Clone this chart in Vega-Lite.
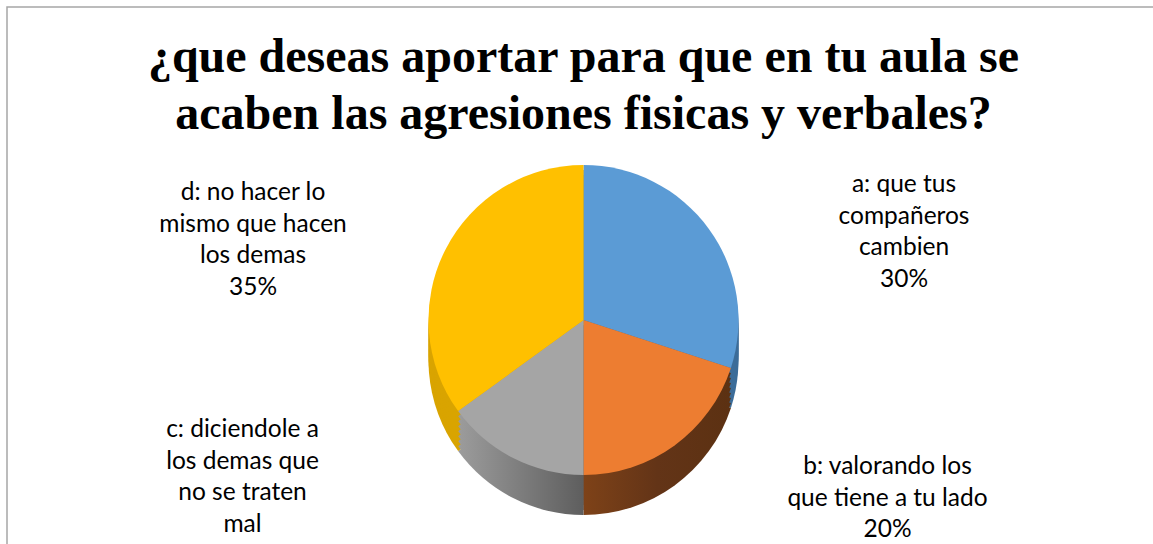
{
  "$schema": "https://vega.github.io/schema/vega-lite/v6.json",
  "width": 1153,
  "height": 626,
  "autosize": {"type": "none"},
  "padding": {"left": 7, "top": 7, "right": 0, "bottom": 0},
  "background": "white",
  "config": {"view": {"stroke": "#A6A6A6", "strokeWidth": 1.5}},
  "title": {
    "text": ["¿que deseas aportar para que en tu aula se", "acaben las agresiones fisicas y verbales?"],
    "font": "Liberation Serif",
    "fontSize": 48,
    "fontWeight": "bold",
    "color": "#000000",
    "lineHeight": 57,
    "anchor": "middle",
    "frame": "group",
    "offset": -132
  },
  "data": {
    "values": [
      {"category": "a", "value": 30, "label": ["a: que tus", "compañeros", "cambien", "30%"]},
      {"category": "b", "value": 20, "label": ["b: valorando los", "que tiene a tu lado", "20%"]},
      {"category": "c", "value": 15, "label": ["c: diciendole a", "los demas que", "no se traten", "mal"]},
      {"category": "d", "value": 35, "label": ["d: no hacer lo", "mismo que hacen", "los demas", "35%"]}
    ]
  },
  "layer": [
    {"mark": {"type": "arc", "radius": 155, "yOffset": 40},
     "encoding": {"theta": {"field": "value", "type": "quantitative", "stack": true},
       "order": {"field": "category", "type": "ordinal", "sort": "ascending"},
       "fill": {"condition": [
         {"test": "datum.category === 'b'", "value": {"gradient": "linear", "x1": 0, "y1": 0, "x2": 1, "y2": 0, "stops": [{"offset": 0, "color": "#7E4218"}, {"offset": 0.5, "color": "#633417"}, {"offset": 1, "color": "#5C3112"}]}},
         {"test": "datum.category === 'c'", "value": {"gradient": "linear", "x1": 0, "y1": 0, "x2": 1, "y2": 0, "stops": [{"offset": 0, "color": "#9C9C9C"}, {"offset": 1, "color": "#5E5E5E"}]}},
         {"test": "datum.category === 'd'", "value": "#D9A400"}], "value": "#3D6D99"}}},
    {"mark": {"type": "arc", "radius": 155, "yOffset": 35},
     "encoding": {"theta": {"field": "value", "type": "quantitative", "stack": true},
       "order": {"field": "category", "type": "ordinal", "sort": "ascending"},
       "fill": {"condition": [
         {"test": "datum.category === 'b'", "value": {"gradient": "linear", "x1": 0, "y1": 0, "x2": 1, "y2": 0, "stops": [{"offset": 0, "color": "#7E4218"}, {"offset": 0.5, "color": "#633417"}, {"offset": 1, "color": "#5C3112"}]}},
         {"test": "datum.category === 'c'", "value": {"gradient": "linear", "x1": 0, "y1": 0, "x2": 1, "y2": 0, "stops": [{"offset": 0, "color": "#9C9C9C"}, {"offset": 1, "color": "#5E5E5E"}]}},
         {"test": "datum.category === 'd'", "value": "#D9A400"}], "value": "#3D6D99"}}},
    {"mark": {"type": "arc", "radius": 155, "yOffset": 30},
     "encoding": {"theta": {"field": "value", "type": "quantitative", "stack": true},
       "order": {"field": "category", "type": "ordinal", "sort": "ascending"},
       "fill": {"condition": [
         {"test": "datum.category === 'b'", "value": {"gradient": "linear", "x1": 0, "y1": 0, "x2": 1, "y2": 0, "stops": [{"offset": 0, "color": "#7E4218"}, {"offset": 0.5, "color": "#633417"}, {"offset": 1, "color": "#5C3112"}]}},
         {"test": "datum.category === 'c'", "value": {"gradient": "linear", "x1": 0, "y1": 0, "x2": 1, "y2": 0, "stops": [{"offset": 0, "color": "#9C9C9C"}, {"offset": 1, "color": "#5E5E5E"}]}},
         {"test": "datum.category === 'd'", "value": "#D9A400"}], "value": "#3D6D99"}}},
    {"mark": {"type": "arc", "radius": 155, "yOffset": 25},
     "encoding": {"theta": {"field": "value", "type": "quantitative", "stack": true},
       "order": {"field": "category", "type": "ordinal", "sort": "ascending"},
       "fill": {"condition": [
         {"test": "datum.category === 'b'", "value": {"gradient": "linear", "x1": 0, "y1": 0, "x2": 1, "y2": 0, "stops": [{"offset": 0, "color": "#7E4218"}, {"offset": 0.5, "color": "#633417"}, {"offset": 1, "color": "#5C3112"}]}},
         {"test": "datum.category === 'c'", "value": {"gradient": "linear", "x1": 0, "y1": 0, "x2": 1, "y2": 0, "stops": [{"offset": 0, "color": "#9C9C9C"}, {"offset": 1, "color": "#5E5E5E"}]}},
         {"test": "datum.category === 'd'", "value": "#D9A400"}], "value": "#3D6D99"}}},
    {"mark": {"type": "arc", "radius": 155, "yOffset": 20},
     "encoding": {"theta": {"field": "value", "type": "quantitative", "stack": true},
       "order": {"field": "category", "type": "ordinal", "sort": "ascending"},
       "fill": {"condition": [
         {"test": "datum.category === 'b'", "value": {"gradient": "linear", "x1": 0, "y1": 0, "x2": 1, "y2": 0, "stops": [{"offset": 0, "color": "#7E4218"}, {"offset": 0.5, "color": "#633417"}, {"offset": 1, "color": "#5C3112"}]}},
         {"test": "datum.category === 'c'", "value": {"gradient": "linear", "x1": 0, "y1": 0, "x2": 1, "y2": 0, "stops": [{"offset": 0, "color": "#9C9C9C"}, {"offset": 1, "color": "#5E5E5E"}]}},
         {"test": "datum.category === 'd'", "value": "#D9A400"}], "value": "#3D6D99"}}},
    {"mark": {"type": "arc", "radius": 155, "yOffset": 15},
     "encoding": {"theta": {"field": "value", "type": "quantitative", "stack": true},
       "order": {"field": "category", "type": "ordinal", "sort": "ascending"},
       "fill": {"condition": [
         {"test": "datum.category === 'b'", "value": {"gradient": "linear", "x1": 0, "y1": 0, "x2": 1, "y2": 0, "stops": [{"offset": 0, "color": "#7E4218"}, {"offset": 0.5, "color": "#633417"}, {"offset": 1, "color": "#5C3112"}]}},
         {"test": "datum.category === 'c'", "value": {"gradient": "linear", "x1": 0, "y1": 0, "x2": 1, "y2": 0, "stops": [{"offset": 0, "color": "#9C9C9C"}, {"offset": 1, "color": "#5E5E5E"}]}},
         {"test": "datum.category === 'd'", "value": "#D9A400"}], "value": "#3D6D99"}}},
    {"mark": {"type": "arc", "radius": 155, "yOffset": 10},
     "encoding": {"theta": {"field": "value", "type": "quantitative", "stack": true},
       "order": {"field": "category", "type": "ordinal", "sort": "ascending"},
       "fill": {"condition": [
         {"test": "datum.category === 'b'", "value": {"gradient": "linear", "x1": 0, "y1": 0, "x2": 1, "y2": 0, "stops": [{"offset": 0, "color": "#7E4218"}, {"offset": 0.5, "color": "#633417"}, {"offset": 1, "color": "#5C3112"}]}},
         {"test": "datum.category === 'c'", "value": {"gradient": "linear", "x1": 0, "y1": 0, "x2": 1, "y2": 0, "stops": [{"offset": 0, "color": "#9C9C9C"}, {"offset": 1, "color": "#5E5E5E"}]}},
         {"test": "datum.category === 'd'", "value": "#D9A400"}], "value": "#3D6D99"}}},
    {"mark": {"type": "arc", "radius": 155, "yOffset": 5},
     "encoding": {"theta": {"field": "value", "type": "quantitative", "stack": true},
       "order": {"field": "category", "type": "ordinal", "sort": "ascending"},
       "fill": {"condition": [
         {"test": "datum.category === 'b'", "value": {"gradient": "linear", "x1": 0, "y1": 0, "x2": 1, "y2": 0, "stops": [{"offset": 0, "color": "#7E4218"}, {"offset": 0.5, "color": "#633417"}, {"offset": 1, "color": "#5C3112"}]}},
         {"test": "datum.category === 'c'", "value": {"gradient": "linear", "x1": 0, "y1": 0, "x2": 1, "y2": 0, "stops": [{"offset": 0, "color": "#9C9C9C"}, {"offset": 1, "color": "#5E5E5E"}]}},
         {"test": "datum.category === 'd'", "value": "#D9A400"}], "value": "#3D6D99"}}},
    {"mark": {"type": "arc", "radius": 155},
     "encoding": {"theta": {"field": "value", "type": "quantitative", "stack": true},
       "order": {"field": "category", "type": "ordinal", "sort": "ascending"},
       "color": {"field": "category", "type": "nominal", "legend": null,
         "scale": {"domain": ["a", "b", "c", "d"], "range": ["#5B9BD5", "#ED7D31", "#A5A5A5", "#FFC000"]}}}},
    {
      "transform": [{"filter": {"field": "category", "oneOf": ["c", "d"]}}],
      "mark": {"type": "text", "font": "Lato", "fontSize": 24.5, "lineHeight": 31.5, "baseline": "alphabetic", "align": "center", "color": "#000000"},
      "encoding": {
        "text": {"field": "label"},
        "x": {"field": "category", "type": "nominal", "axis": null,
          "scale": {"type": "point", "domain": ["c", "d"], "range": [235.5, 246], "padding": 0}},
        "y": {"field": "category", "type": "nominal", "axis": null,
          "scale": {"type": "point", "domain": ["d", "c"], "range": [193, 430], "padding": 0}}
      }
    },
    {
      "transform": [{"filter": {"field": "category", "oneOf": ["a", "b"]}}],
      "mark": {"type": "text", "font": "Lato", "fontSize": 24.5, "lineHeight": 31.5, "baseline": "alphabetic", "align": "center", "color": "#000000"},
      "encoding": {
        "text": {"field": "label"},
        "x": {"field": "category", "type": "nominal", "axis": null,
          "scale": {"type": "point", "domain": ["b", "a"], "range": [880.5, 897], "padding": 0}},
        "y": {"field": "category", "type": "nominal", "axis": null,
          "scale": {"type": "point", "domain": ["a", "b"], "range": [185, 467], "padding": 0}}
      }
    }
  ],
  "resolve": {"scale": {"x": "independent", "y": "independent"}}
}
